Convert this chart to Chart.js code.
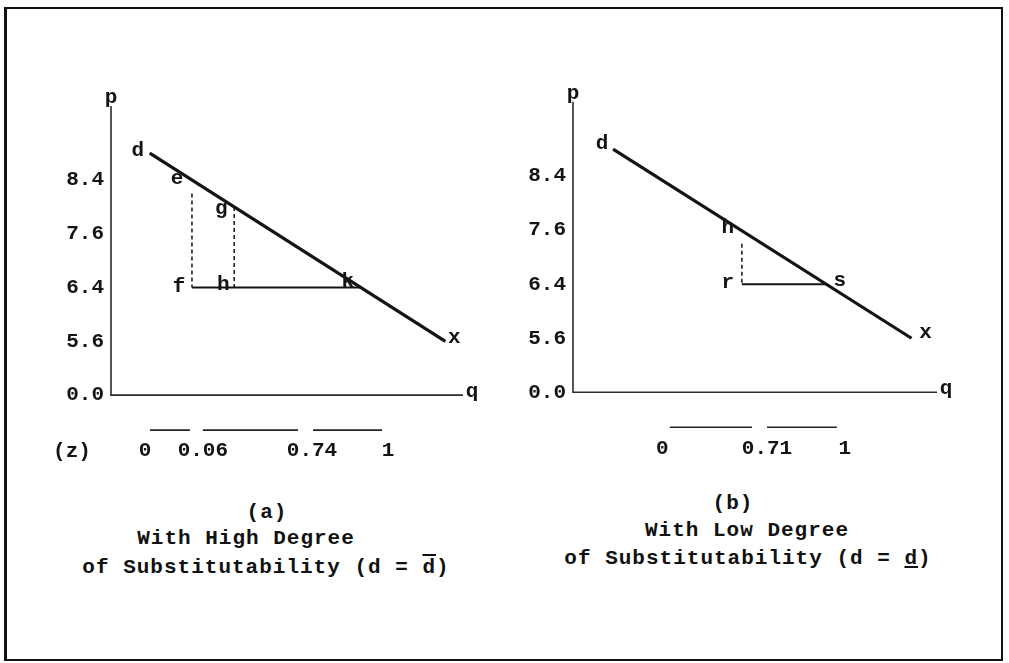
<!DOCTYPE html>
<html>
<head>
<meta charset="utf-8">
<script src="https://cdn.jsdelivr.net/npm/chart.js@4.4.1/dist/chart.umd.min.js"></script>
<style>
  html, body { margin: 0; padding: 0; background: #fff; }
  body { width: 1009px; height: 663px; position: relative; overflow: hidden;
         font-family: "Liberation Mono", monospace; color: #111; }
  .frame { position: absolute; left: 4px; top: 7px; width: 999px; height: 654px;
           box-sizing: border-box; border: 2px solid #111; border-left-width: 3px; }
  canvas { position: absolute; }
  #chartA { left: 20px; top: 70px; }
  #chartB { left: 500px; top: 70px; }
  .cap { position: absolute; width: 400px; text-align: center; font-size: 21px; font-weight: bold;
         letter-spacing: 1px; white-space: pre; line-height: 1; }
</style>
</head>
<body>
<div class="frame"></div>
<canvas id="chartA" width="470" height="420"></canvas>
<canvas id="chartB" width="480" height="420"></canvas>

<div class="cap" style="left:67px; top:502px;">(a)</div>
<div class="cap" style="left:46px; top:528px;">With High Degree</div>
<div class="cap" style="left:66px; top:557px;">of Substitutability (d = <span style="text-decoration:overline">d</span>)</div>

<div class="cap" style="left:533px; top:493px;">(b)</div>
<div class="cap" style="left:547px; top:520px;">With Low Degree</div>
<div class="cap" style="left:548px; top:548px;">of Substitutability (d = <span style="text-decoration:underline">d</span>)</div>

<script>
// ---------------------------------------------------------------
// DATA
// ---------------------------------------------------------------
// p axis tick labels (drawn at equal spacing, as in the original)
const pTicks = [0.0, 5.6, 6.4, 7.6, 8.4];
const pAxisTop = 9.5;   // top end of the p axis
const qAxisEnd = 10;    // right end of the q axis

// panel (a): high degree of substitutability
const aDemandQ = [1.1, 9.5];
const aDemandP = [8.8, 5.6];
const aNames = ['d', 'e', 'g', 'f', 'h', 'k', 'x'];
const aNameQ = [1.1, 2.3, 3.5, 2.3, 3.5, 7.1, 9.5];
const aNameP = [8.8, 8.4, 8.0, 6.4, 6.4, 6.4, 5.6];
const aBaseQ = [2.3, 7.1];
const aBaseP = 6.4;
const aDashQ = [2.3, 3.5];
const aDashTop = [8.2, 8.0];
const aZLabels = ['0', '0.06', '0.74', '1'];
const aZQ = [0.97, 2.61, 5.71, 7.87];
const aZBarFrom = [1.11, 2.61, 5.74];
const aZBarTo = [2.24, 5.31, 7.70];

// panel (b): low degree of substitutability
const bDemandQ = [1.1, 9.3];
const bDemandP = [8.8, 5.6];
const bNames = ['d', 'h', 'r', 's', 'x'];
const bNameQ = [1.1, 4.64, 4.64, 7.0, 9.3];
const bNameP = [8.8, 7.6, 6.4, 6.4, 5.6];
const bBaseQ = [4.64, 7.0];
const bBaseP = 6.4;
const bDashQ = [4.64];
const bDashTop = [7.3];
const bZLabels = ['0', '0.71', '1'];
const bZQ = [2.45, 5.33, 7.47];
const bZBarFrom = [2.66, 5.33];
const bZBarTo = [4.92, 7.25];

// ---------------------------------------------------------------
// p -> position on the (unevenly labelled) p axis
// ---------------------------------------------------------------
function pToIdx(p) {
    for (let i = 1; i < pTicks.length; i++) {
        if (p <= pTicks[i] || i === pTicks.length - 1) {
            return (i - 1) + (p - pTicks[i - 1]) / (pTicks[i] - pTicks[i - 1]);
        }
    }
    return 0;
}
function pt(q, p) { return { x: q, y: pToIdx(p) }; }

const FONT = 'bold 21px "Liberation Mono", monospace';
const INK = '#141414';

// letters, axis names and the (z) row
const diagramText = {
    id: 'diagramText',
    afterDatasetsDraw(chart, args, o) {
        const { ctx } = chart;
        const xs = chart.scales.x, ys = chart.scales.y;
        const y0 = ys.getPixelForValue(0);
        ctx.save();
        ctx.font = FONT;
        ctx.fillStyle = INK;
        ctx.textAlign = 'center';
        ctx.textBaseline = 'middle';

        o.names.forEach((n, i) => {
            const off = o.offsets[n] || [0, 0];
            ctx.fillText(n, xs.getPixelForValue(o.q[i]) + off[0], ys.getPixelForValue(pToIdx(o.p[i])) + off[1]);
        });

        ctx.textBaseline = 'alphabetic';
        ctx.fillText('p', xs.getPixelForValue(0), ys.getPixelForValue(pToIdx(pAxisTop)) - 3);
        ctx.fillText('q', xs.getPixelForValue(qAxisEnd) + 9, y0 + 2);

        ctx.textBaseline = 'middle';
        o.zLabels.forEach((t, i) => ctx.fillText(t, xs.getPixelForValue(o.zQ[i]), y0 + 56));
        if (o.zTitle) ctx.fillText(o.zTitle, xs.left - 39, y0 + 57);

        ctx.strokeStyle = '#222';
        ctx.lineWidth = 1.6;
        o.zFrom.forEach((a, i) => {
            ctx.beginPath();
            ctx.moveTo(xs.getPixelForValue(a), y0 + 35);
            ctx.lineTo(xs.getPixelForValue(o.zTo[i]), y0 + 35);
            ctx.stroke();
        });
        ctx.restore();
    }
};

function buildPanel(id, d, s) {
    const dashData = [];
    d.dashQ.forEach((q, i) => {
        dashData.push(pt(q, d.dashTop[i]), pt(q, d.baseP), { x: q + 0.01, y: null });
    });

    const datasets = [
        { data: [pt(0, pAxisTop), pt(0, 0), pt(qAxisEnd, 0)], borderColor: '#2b2b2b', borderWidth: 1.6 },
        { data: d.demandQ.map((q, i) => pt(q, d.demandP[i])), borderColor: INK, borderWidth: 3.2 },
        { data: d.baseQ.map(q => pt(q, d.baseP)), borderColor: INK, borderWidth: 2 },
        { data: dashData, borderColor: '#222', borderWidth: 1.6, borderDash: [4, 3] }
    ].map(ds => Object.assign({ pointRadius: 0, fill: false, tension: 0, clip: false, spanGaps: false }, ds));

    new Chart(document.getElementById(id), {
        type: 'line',
        data: { datasets: datasets },
        options: {
            responsive: false,
            animation: false,
            events: [],
            layout: { padding: s.padding },
            plugins: {
                legend: { display: false },
                tooltip: { enabled: false },
                diagramText: {
                    names: d.names, q: d.nameQ, p: d.nameP, offsets: s.offsets,
                    zLabels: d.zLabels, zQ: d.zQ, zFrom: d.zFrom, zTo: d.zTo, zTitle: d.zTitle
                }
            },
            scales: {
                x: { type: 'linear', display: false, min: 0, max: qAxisEnd },
                y: {
                    type: 'linear', min: -1.4, max: 5.6,
                    afterFit: sc => { sc.width = s.yAxisWidth; },
                    afterBuildTicks: sc => { sc.ticks = pTicks.map((v, i) => ({ value: i })); },
                    grid: { display: false, drawTicks: false },
                    border: { display: false },
                    ticks: {
                        padding: 7,
                        color: INK,
                        font: { family: '"Liberation Mono", monospace', size: 21, weight: 'bold' },
                        callback: v => (pTicks[v] !== undefined ? pTicks[v].toFixed(1) : '')
                    }
                }
            }
        },
        plugins: [diagramText]
    });
}

buildPanel('chartA', {
    demandQ: aDemandQ, demandP: aDemandP,
    names: aNames, nameQ: aNameQ, nameP: aNameP,
    baseQ: aBaseQ, baseP: aBaseP, dashQ: aDashQ, dashTop: aDashTop,
    zLabels: aZLabels, zQ: aZQ, zFrom: aZBarFrom, zTo: aZBarTo, zTitle: '(z)'
}, {
    yAxisWidth: 91,
    padding: { top: 24, right: 27, bottom: 16, left: 0 },
    offsets: { d: [-12, -2], e: [-15, -1], g: [-13, 2], f: [-13, -1], h: [-11, -3], k: [-13, -6], x: [9, -4] }
});

buildPanel('chartB', {
    demandQ: bDemandQ, demandP: bDemandP,
    names: bNames, nameQ: bNameQ, nameP: bNameP,
    baseQ: bBaseQ, baseP: bBaseP, dashQ: bDashQ, dashTop: bDashTop,
    zLabels: bZLabels, zQ: bZQ, zFrom: bZBarFrom, zTo: bZBarTo, zTitle: ''
}, {
    yAxisWidth: 73,
    padding: { top: 18, right: 43, bottom: 22, left: 0 },
    offsets: { d: [-11, -5], h: [-14, -2], r: [-14, -2], s: [12, -4], x: [14, -6] }
});
</script>
</body>
</html>
